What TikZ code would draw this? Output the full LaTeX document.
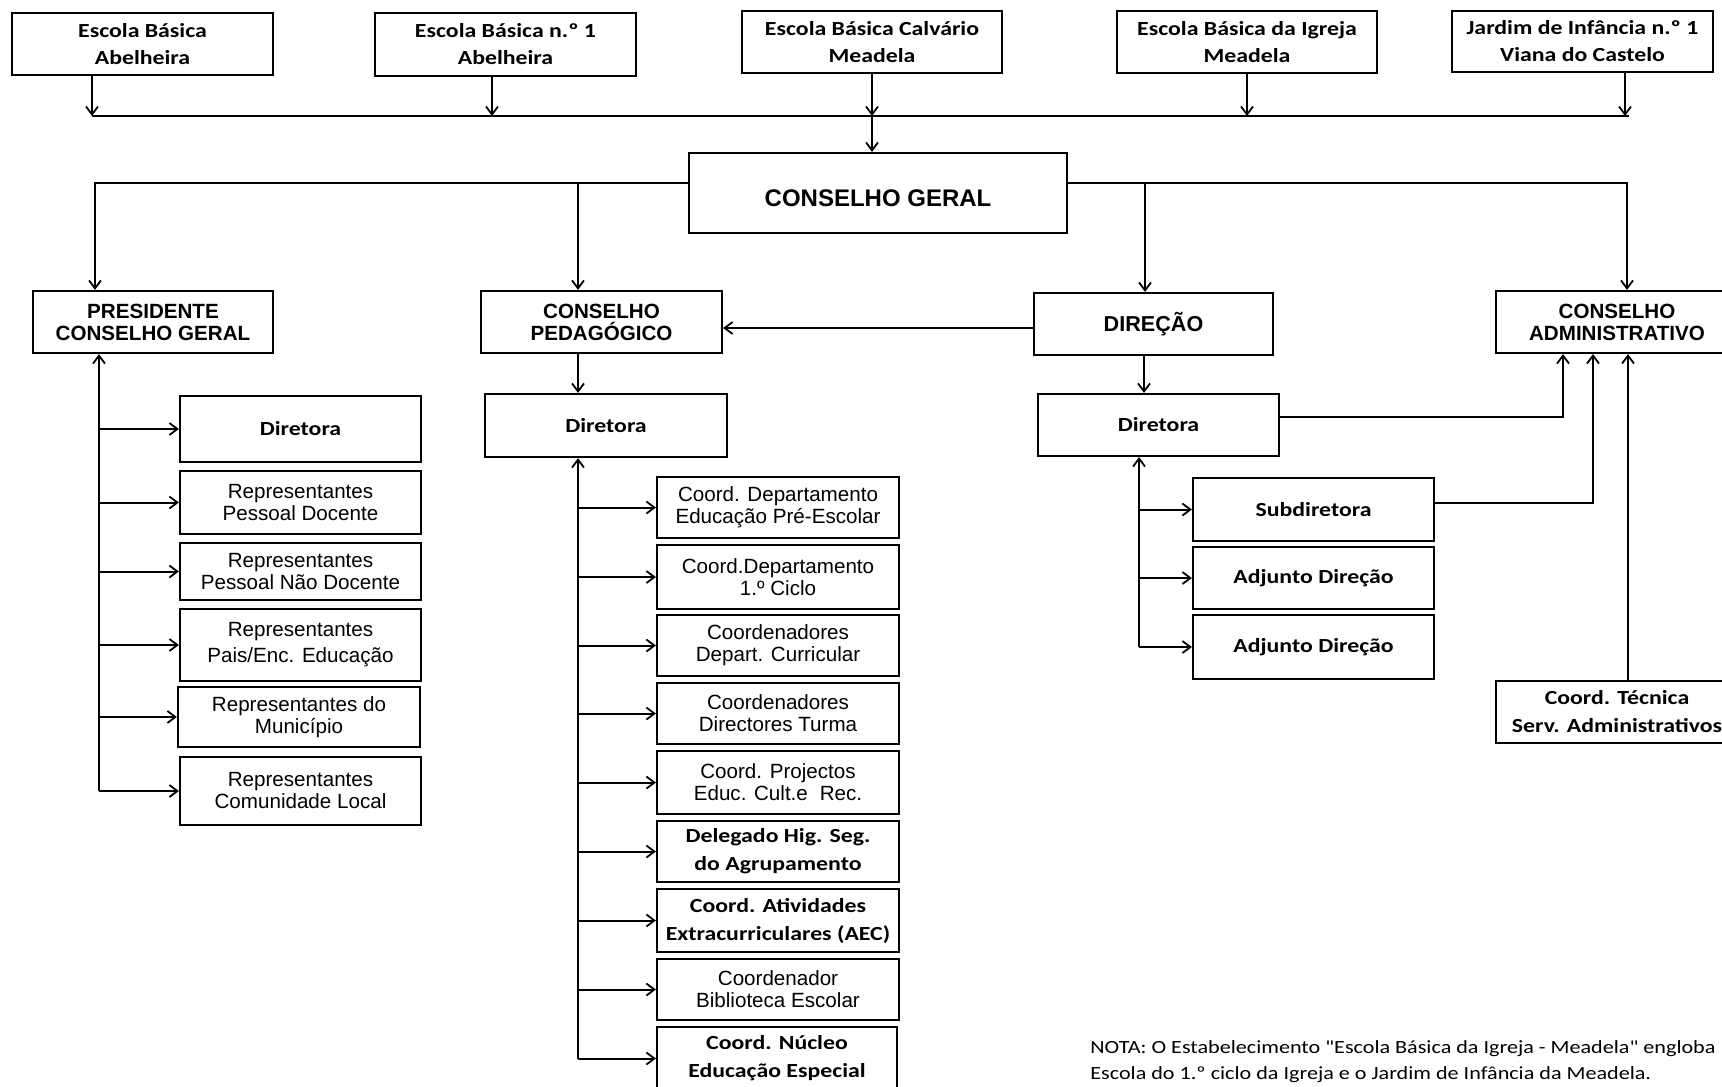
\documentclass[tikz,border=0pt]{standalone}
\usepackage{fontspec}
\setmainfont{Liberation Sans}
\newfontfamily\arialf{Liberation Sans}
\newfontfamily\calf[FakeStretch=1.19]{Carlito}
\newfontfamily\calnote[FakeStretch=1.19,Ligatures=TeXOff]{Carlito}
\usetikzlibrary{arrows.meta}
\begin{document}
\begin{tikzpicture}[x=0.5pt,y=-0.5pt,
  place/.style args={#1/#2/#3/#4}{
    minimum width={(#3-#1)*0.5pt},
    minimum height={(#4-#2)*0.5pt},
    at={({(#1+#3)/2},{(#2+#4)/2})}},
  box/.style={draw, line width=1.1pt, inner sep=0pt, align=center, fill=white},
  topf/.style={font=\calf\bfseries\fontsize{10}{13.5}\selectfont},
  calb/.style={font=\calf\bfseries\fontsize{10}{14}\selectfont},
  hdr/.style={font=\arialf\bfseries\fontsize{10.3}{11}\selectfont},
  big/.style={font=\arialf\bfseries\fontsize{12}{14}\selectfont},
  reg/.style={font=\arialf\fontsize{10.3}{11}\selectfont},
  regw/.style={font=\arialf\fontsize{10.3}{13}\selectfont},
  line/.style={line width=1pt},
  arr/.style={line width=1pt, -{Straight Barb[length=4pt,width=6pt,line width=0.9pt]}},
]
\fill[white] (0,0) rectangle (1722,1086);
\useasboundingbox (0,0) rectangle (1722,1086);

% top row
\node[box,topf,place=12/13/273/75] (eba) {Escola Básica\\Abelheira};
\node[box,topf,place=375/13/636/76] (eb1) {Escola Básica n.º 1\\Abelheira};
\node[box,topf,place=742/11/1002/73] (ebc) {Escola Básica Calvário\\Meadela};
\node[box,topf,place=1117/11/1377/73] (ebi) {Escola Básica da Igreja\\Meadela};
\node[box,topf,place=1452/11/1713/72] (jdi) {Jardim de Infância n.º 1\\Viana do Castelo};

% main level
\node[box,big,text height=13.6pt,text depth=0pt,place=689/153/1067/233] (cg) {CONSELHO GERAL};
\node[box,hdr,place=33/291/273/353] (pcg) {PRESIDENTE\\CONSELHO GERAL};
\node[box,hdr,place=481/291/722/353] (cp) {CONSELHO\\PEDAGÓGICO};
\node[box,hdr,font=\arialf\bfseries\fontsize{10.8}{12}\selectfont,place=1034/293/1273/355] (dir) {DIREÇÃO};
\node[box,hdr,place=1496/291/1738/353] (ca) {CONSELHO\\ADMINISTRATIVO};

% presidente children
\node[box,calb,place=180/396/421/462] (pd) {Diretora};
\node[box,reg,place=180/471/421/534] (p1) {Representantes\\Pessoal Docente};
\node[box,reg,place=180/543/421/600] (p2) {Representantes\\Pessoal Não Docente};
\node[box,regw,place=180/609/421/681] (p3) {Representantes\\Pais/Enc. Educação};
\node[box,reg,place=178/687/420/747] (p4) {Representantes do\\Município};
\node[box,reg,place=180/757/421/825] (p5) {Representantes\\Comunidade Local};

% pedagogico children
\node[box,calb,place=485/394/727/457] (cpd) {Diretora};
\node[box,reg,place=657/477/899/538] (c1) {Coord. Departamento\\Educação Pré-Escolar};
\node[box,reg,place=657/545/899/609] (c2) {Coord.Departamento\\1.º Ciclo};
\node[box,reg,place=657/615/899/676] (c3) {Coordenadores\\Depart. Curricular};
\node[box,reg,place=657/683/899/744] (c4) {Coordenadores\\Directores Turma};
\node[box,reg,place=657/751/899/814] (c5) {Coord. Projectos\\Educ. Cult.e\hspace{0.3em} Rec.};
\node[box,calb,place=657/821/899/882] (c6) {Delegado Hig. Seg.\\do Agrupamento};
\node[box,calb,place=657/889/899/952] (c7) {Coord. Atividades\\Extracurriculares (AEC)};
\node[box,reg,place=657/959/899/1020] (c8) {Coordenador\\Biblioteca Escolar};
\node[box,calb,place=657/1027/897/1090] (c9) {Coord. Núcleo\\Educação Especial};

% direcao children
\node[box,calb,place=1038/394/1279/456] (dd) {Diretora};
\node[box,calb,place=1193/478/1434/541] (sub) {Subdiretora};
\node[box,calb,place=1193/547/1434/609] (ad1) {Adjunto Direção};
\node[box,calb,place=1193/615/1434/679] (ad2) {Adjunto Direção};
\node[box,calb,place=1496/681/1738/743] (ct) {Coord. Técnica\\Serv. Administrativos};

% note
\node[anchor=west, align=left, inner sep=0pt, font=\calnote\fontsize{9.3}{13}\selectfont] (nota) at (1090,1062)
  {NOTA: O Estabelecimento "Escola Básica da Igreja - Meadela" engloba\\Escola do 1.º ciclo da Igreja e o Jardim de Infância da Meadela.};

% bus coordinates
\coordinate (b1) at (92,116);
\coordinate (b2) at (492,116);
\coordinate (b3) at (872,116);
\coordinate (b4) at (1247,116);
\coordinate (b5) at (1625,116);
\coordinate (bend) at (1629,116);
\draw[line] (b1) -- (bend);
\draw[arr] (eba.south -| b1) -- (b1);
\draw[arr] (eb1.south -| b2) -- (b2);
\draw[arr] (ebc.south -| b3) -- (b3);
\draw[arr] (ebi.south -| b4) -- (b4);
\draw[arr] (jdi.south -| b5) -- (b5);
\draw[arr] (b3) -- (cg.north -| b3);

% conselho geral distribution
\coordinate (gl) at (95,183);
\coordinate (gp) at (578,183);
\coordinate (gd) at (1145,183);
\coordinate (gr) at (1627,183);
\draw[arr] (cg.west |- gl) -- (gl) -- (pcg.north -| gl);
\draw[arr] (gp) -- (cp.north -| gp);
\draw[arr] (cg.east |- gr) -- (gr) -- (ca.north -| gr);
\draw[arr] (gd) -- (dir.north -| gd);

% direcao -> conselho pedagogico
\coordinate (dcp) at (900,328);
\draw[arr] (dir.west |- dcp) -- (cp.east |- dcp);

% presidente tree
\coordinate (pv) at (99,0);
\draw[arr] (pv |- p5.west) -- (pcg.south -| pv);
\foreach \n in {pd,p1,p2,p3,p4,p5}
  \draw[arr] (pv |- \n.west) -- (\n.west);

% pedagogico tree
\coordinate (cv) at (578,0);
\draw[arr] (cp.south -| cv) -- (cpd.north -| cv);
\draw[arr] (cv |- c9.west) -- (cpd.south -| cv);
\foreach \n in {c1,c2,c3,c4,c5,c6,c7,c8,c9}
  \draw[arr] (cv |- \n.west) -- (\n.west);

% direcao tree
\coordinate (dv) at (1144,0);
\coordinate (dv2) at (1139,0);
\draw[arr] (dir.south -| dv) -- (dd.north -| dv);
\draw[arr] (dv2 |- ad2.west) -- (dd.south -| dv2);
\foreach \n in {sub,ad1,ad2}
  \draw[arr] (dv2 |- \n.west) -- (\n.west);

% links to conselho administrativo
\coordinate (ka) at (1563,417);
\coordinate (kb) at (1593,503);
\coordinate (kc) at (1628,0);
\draw[arr] (dd.east |- ka) -- (ka) -- (ca.south -| ka);
\draw[arr] (sub.east |- kb) -- (kb) -- (ca.south -| kb);
\draw[arr] (ct.north -| kc) -- (ca.south -| kc);
\end{tikzpicture}
\end{document}
